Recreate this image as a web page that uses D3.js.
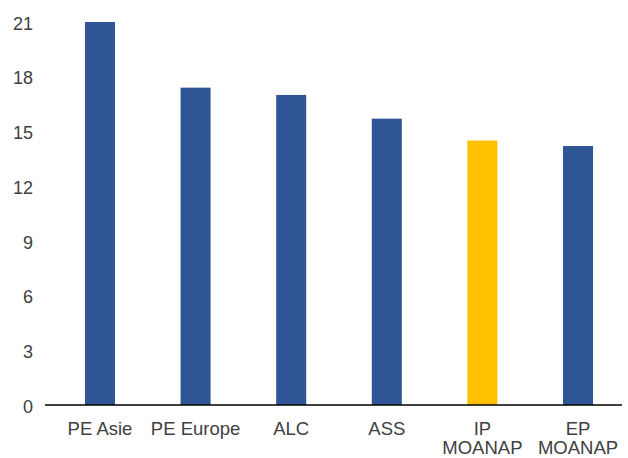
<!DOCTYPE html>
<html><head><meta charset="utf-8">
<script src="https://cdn.jsdelivr.net/npm/d3@7"></script>
<style>body{margin:0;background:#fff}svg{display:block}</style>
</head><body>
<script>
const categories = [["PE Asie"],["PE Europe"],["ALC"],["ASS"],["IP","MOANAP"],["EP","MOANAP"]];
const values = [21.0, 17.4, 17.0, 15.7, 14.5, 14.2];
const highlight = [false,false,false,false,true,false];
const yTicks = [0,3,6,9,12,15,18,21];

const W = 628, H = 458;
const m = {left:45, right:6, top:22, bottom:53};
const svg = d3.select("body").append("svg").attr("width",W).attr("height",H);
const x = d3.scaleBand().domain(d3.range(categories.length)).range([45, 633]).paddingInner(0.686).paddingOuter(0.418);
const y = d3.scaleLinear().domain([0,21]).range([H-m.bottom, m.top]);

svg.selectAll("rect.bar").data(values).join("rect")
  .attr("class","bar")
  .attr("x",(d,i)=>x(i)).attr("width",x.bandwidth())
  .attr("y",d=>y(d)).attr("height",d=>y(0)-y(d))
  .attr("fill",(d,i)=>highlight[i]?"#FFC000":"#2F5597");

const yAxis = svg.append("g").attr("transform",`translate(${m.left},0)`)
  .call(d3.axisLeft(y).tickValues(yTicks).tickSize(0).tickPadding(12));
yAxis.select(".domain").remove();
yAxis.selectAll("text").attr("font-family","Liberation Sans, Arial, sans-serif").attr("font-size",18).attr("fill","#404040").attr("dy","0.4em");

const xAxis = svg.append("g").attr("transform",`translate(0,${y(0)})`)
  .call(d3.axisBottom(x).tickSize(0).tickFormat(""));
xAxis.select(".domain").attr("stroke","#000").attr("stroke-width",1.5).attr("d",`M${m.left},0H${W-m.right}`);
xAxis.selectAll(".tick").each(function(d){
  const t = d3.select(this).append("text")
    .attr("font-family","Liberation Sans, Arial, sans-serif").attr("font-size",18.5).attr("fill","#404040")
    .attr("text-anchor","middle").attr("y",29.5);
  categories[d].forEach((line,k)=>{
    t.append("tspan").attr("x",0).attr("dy",k===0?0:19.5).text(line);
  });
});
</script>
</body></html>
